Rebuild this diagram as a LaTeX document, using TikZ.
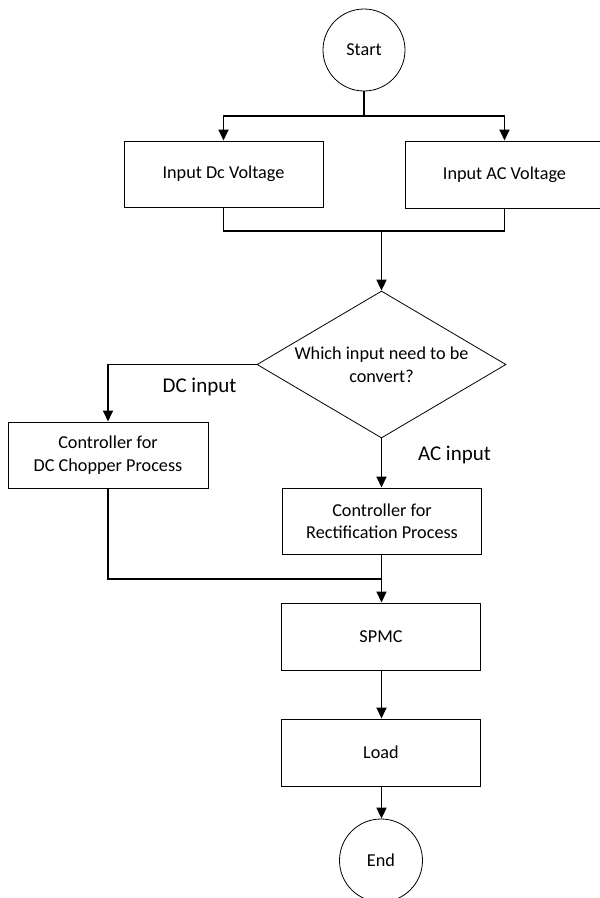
\documentclass[tikz,border=0pt]{standalone}
\usepackage{fontspec}
\setmainfont{Carlito}
\usetikzlibrary{shapes.geometric,arrows.meta}
\begin{document}
\begin{tikzpicture}[x=1pt,y=-1pt,
  box/.style={draw,line width=1pt,minimum width=199pt,minimum height=66pt,inner sep=0pt,align=center,font=\fontsize{18.2}{22.5}\selectfont},
  term/.style={draw,circle,line width=0.8pt,minimum size=82pt,inner sep=0pt,font=\fontsize{18.2}{22.5}\selectfont},
  conn/.style={line width=1.8pt},
  arr/.style={conn,-{Triangle[width=10pt,length=11pt]}},
  lbl/.style={font=\fontsize{21}{25}\selectfont,inner sep=0pt}]
\useasboundingbox (0,0) rectangle (600,898);
\node[term] (start) at (364,50) {Start};
\node[box] (dcv) at (223.5,174) {Input Dc Voltage};
\node[box,minimum height=67pt] (acv) at (504.5,174.5) {Input AC Voltage};
\node[draw,diamond,line width=0.8pt,minimum width=249pt,minimum height=147pt,inner sep=0pt] (dec) at (381.5,364.5) {};
\node[align=center,font=\fontsize{18.2}{22.5}\selectfont] (dectext) at (381.5,364.5) {Which input need to be\\convert?};
\node[box,minimum width=200pt] (dcc) at (108,455) {Controller for\\DC Chopper Process};
\node[box] (rect) at (382,521) {Controller for\\Rectification Process};
\node[box,minimum height=67pt] (spmc) at (381,636.5) {SPMC};
\node[box,minimum height=67pt] (load) at (381,752.5) {Load};
\node[term,minimum size=83pt] (end) at (381,860.5) {End};
\coordinate (b1) at (364,116);
\coordinate (m1) at (381.5,231);
\coordinate (m2) at (381.5,579);
\draw[conn] (start) -- (b1);
\draw[arr] (b1) -| (dcv.north);
\draw[arr] (b1) -| (acv.north);
\draw[conn] (dcv.south) |- (m1);
\draw[conn] (acv.south) |- (m1);
\draw[arr] (m1) -- (dec.north);
\draw[arr] (dec.west) -| (dcc.north);
\node[lbl] (dclbl) at (199.5,387) {DC input};
\draw[arr] (dec.south) -- (rect.north -| dec.south);
\node[lbl] (aclbl) at (454.5,455) {AC input};
\draw[conn] (dcc.south) |- (m2);
\draw[conn] (rect.south -| m2) -- (m2);
\draw[arr] (m2) -- (spmc.north -| m2);
\draw[arr] (spmc.south -| m2) -- (load.north -| m2);
\draw[arr] (load.south -| m2) -- (end.north -| m2);
\end{tikzpicture}
\end{document}
